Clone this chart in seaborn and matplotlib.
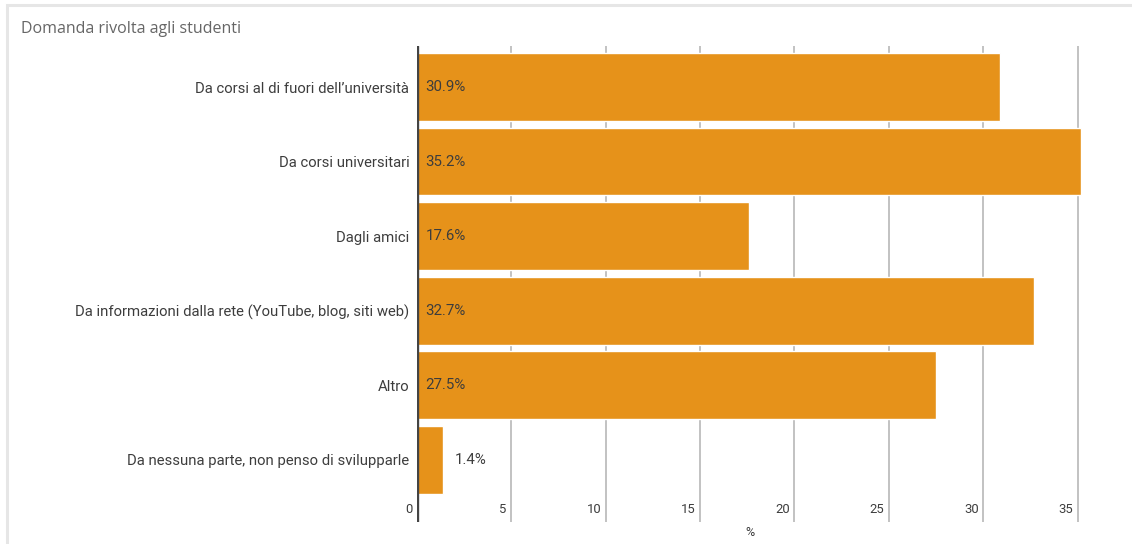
import matplotlib.pyplot as plt
import seaborn as sns
import pandas as pd
from matplotlib import font_manager as fm
from matplotlib.patches import Rectangle

# Data
categories = [
    "Da corsi al di fuori dell\u2019universit\u00e0",
    "Da corsi universitari",
    "Dagli amici",
    "Da informazioni dalla rete (YouTube, blog, siti web)",
    "Altro",
    "Da nessuna parte, non penso di svilupparle",
]
percent = [30.9, 35.2, 17.6, 32.7, 27.5, 1.4]
x_ticks = [0, 5, 10, 15, 20, 25, 30, 35]

BAR = "#E6921A"
TXT = "#3c3c3c"

# use the static Roboto faces rather than the variable file
fm.fontManager.ttflist = [f for f in fm.fontManager.ttflist
                          if not (f.name == 'Roboto' and '[' in f.fname)]
try:
    fm.fontManager._findfont_cached.cache_clear()
except AttributeError:
    pass

sns.set_theme(style="white")
plt.rcParams['font.family'] = ['Roboto', 'DejaVu Sans']

df = pd.DataFrame({'cat': categories, 'pct': percent})

W, H = 1132, 544
fig = plt.figure(figsize=(W / 100, H / 100), dpi=100)
# light frame around the chart card
fig.patches.append(Rectangle((7 / W, -0.1), 1.2, (H - 5) / H + 0.1, transform=fig.transFigure,
                             fill=False, edgecolor="#e6e6e6", linewidth=2.2, zorder=0))
fig.text(21 / W, 1 - 29 / H, "Domanda rivolta agli studenti", fontsize=11.5, color="#666666",
         family=['Open Sans', 'DejaVu Sans'], va='center', ha='left')

ax = fig.add_axes([417 / W, 22 / H, (1087 - 417) / W, (522 - 46) / H])
sns.barplot(data=df, x='pct', y='cat', orient='h', color=BAR, saturation=1, width=0.91,
            ax=ax, zorder=3)
ax.set_xlim(0, 35.5)
ax.set_ylim(5.835, -0.55)

for t in x_ticks[1:]:
    ax.axvline(t, color="#bdbdbd", linewidth=1.3, zorder=1)
for t in x_ticks:
    ax.text(t - 0.24, 5.76, str(t), ha='right', va='bottom', fontsize=9.4, color=TXT)
ax.axvline(0, color="#444444", linewidth=2.4, zorder=4)

for i, v in enumerate(percent):
    if v > 5:
        ax.text(0.45, i, f"{v}%", ha='left', va='center', fontsize=10.8, color=TXT, zorder=5)
    else:
        ax.text(v + 0.58, i, f"{v}%", ha='left', va='center', fontsize=10.8, color=TXT, zorder=5)

ax.set_xticks([])
ax.set_yticks(range(len(categories)))
ax.set_yticklabels(categories, fontsize=10.7, color=TXT)
ax.tick_params(axis='y', length=0, pad=5.5)
ax.set_ylabel("")
ax.set_xlabel("")
fig.text(750 / W, 1 - 533 / H, "%", fontsize=9, color=TXT, ha='center', va='center')
for s in ax.spines.values():
    s.set_visible(False)
ax.set_facecolor("none")

fig.savefig("out.png", dpi=100)
